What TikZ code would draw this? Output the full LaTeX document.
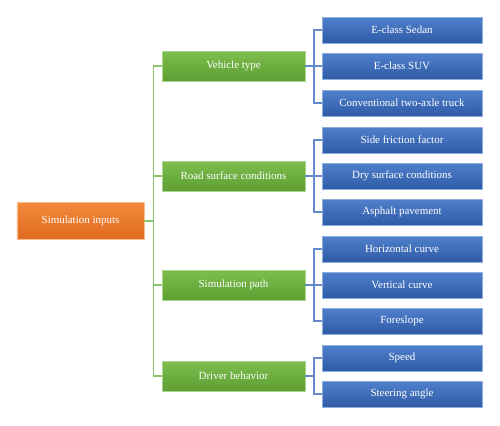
\documentclass[tikz,border=0pt]{standalone}
\usepackage{fontspec}
\setmainfont{Liberation Serif}
\usetikzlibrary{calc}
\definecolor{gtop}{HTML}{7DBE4E}
\definecolor{gbot}{HTML}{5E9E33}
\definecolor{gedge}{HTML}{A8D68A}
\definecolor{btop}{HTML}{5080CC}
\definecolor{bbot}{HTML}{2F5BA6}
\definecolor{bedge}{HTML}{8EAEE2}
\definecolor{otop}{HTML}{F28A3C}
\definecolor{obot}{HTML}{E0691E}
\definecolor{oedge}{HTML}{F8BE90}
\definecolor{gline}{HTML}{8CC66A}
\definecolor{bline}{HTML}{6688CC}
\tikzset{
  x=1bp, y=-1bp,
  box/.style={rectangle, text=white, inner sep=0pt, line width=0.8bp,
    font=\fontsize{11}{13}\selectfont},
  rootbox/.style={box, top color=otop, bottom color=obot, draw=oedge,
    minimum width=127bp, minimum height=37bp},
  catbox/.style={box, top color=gtop, bottom color=gbot, draw=gedge,
    minimum width=143bp, minimum height=30bp},
  leafbox/.style={box, top color=btop, bottom color=bbot, draw=bedge,
    minimum width=160bp, minimum height=26bp},
  gconn/.style={draw=gline, line width=1.4bp},
  bconn/.style={draw=bline, line width=1.3bp},
}
\begin{document}
\begin{tikzpicture}
\useasboundingbox (0,0) rectangle (500,425);
\node[rootbox] (root) at (80.5,221) {Simulation inputs};
\node[catbox] (g1) at (233.5,66) {Vehicle type};
\node[catbox] (g2) at (233.5,176) {Road surface conditions};
\node[catbox] (g3) at (233.5,285) {Simulation path};
\node[catbox] (g4) at (233.5,376) {Driver behavior};
\node[leafbox] (b11) at (402,30) {E-class Sedan};
\node[leafbox] (b12) at (402,66) {E-class SUV};
\node[leafbox] (b13) at (402,103) {Conventional two-axle truck};
\node[leafbox] (b21) at (402,140) {Side friction factor};
\node[leafbox] (b22) at (402,176) {Dry surface conditions};
\node[leafbox] (b23) at (402,212) {Asphalt pavement};
\node[leafbox] (b31) at (402,249) {Horizontal curve};
\node[leafbox] (b32) at (402,285) {Vertical curve};
\node[leafbox] (b33) at (402,321) {Foreslope};
\node[leafbox] (b41) at (402,358) {Speed};
\node[leafbox] (b42) at (402,394) {Steering angle};
% green trunk
\coordinate (tr) at ([xshift=9bp]root.east);
\draw[gconn] (root.east) -- (tr);
\foreach \g in {g1,g2,g3,g4} \draw[gconn] (\g.west) -| (tr);
% blue brackets
\foreach \g/\a/\b/\c in {g1/b11/b12/b13, g2/b21/b22/b23, g3/b31/b32/b33} {
  \coordinate (j\g) at ([xshift=8.5bp]\g.east);
  \draw[bconn] (\g.east) -- (j\g);
  \draw[bconn] (\a.west) -| (j\g);
  \draw[bconn] (\b.west) -| (j\g);
  \draw[bconn] (\c.west) -| (j\g);
}
\coordinate (jg4) at ([xshift=8.5bp]g4.east);
\draw[bconn] (g4.east) -- (jg4);
\draw[bconn] (b41.west) -| (jg4);
\draw[bconn] (b42.west) -| (jg4);
\end{tikzpicture}
\end{document}
